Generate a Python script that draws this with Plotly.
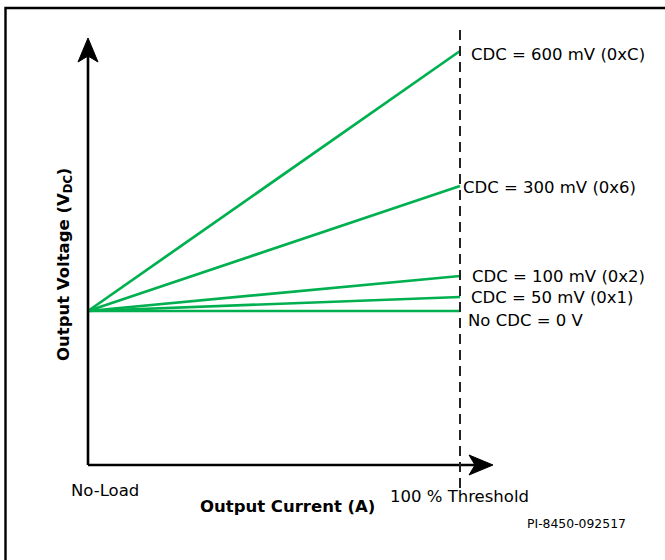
import plotly.graph_objects as go

# ---- data (schematic values) ----
current_points = [0.0, 1.0]          # No-Load -> 100 % Threshold (relative)
cdc_labels = ["CDC = 600 mV (0xC)", "CDC = 300 mV (0x6)", "CDC = 100 mV (0x2)",
              "CDC = 50 mV (0x1)", "No CDC = 0 V"]
start_level = 0.0                     # common no-load voltage (display units)
end_levels = [260, 125, 35, 14, 0]    # voltage rise at threshold (display units)
x_tick_labels = ["No-Load", "100 % Threshold"]

W, H = 665, 560
GREEN = "#00B050"
FONT = "DejaVu Sans"
FS = 16.5

# pixel <-> data helpers (plot area == full figure)
X0PX, X1PX = 88, 460
Y0PX = 311
def xd(px):
    return (px - X0PX) / (X1PX - X0PX)
def yd(py):
    return Y0PX - py

fig = go.Figure()
for lab, lev in zip(cdc_labels, end_levels):
    fig.add_trace(go.Scatter(x=current_points, y=[start_level, lev], mode="lines",
                             line=dict(color=GREEN, width=2.7), name=lab,
                             showlegend=False, hoverinfo="skip"))

def path(pts):
    return "M " + " L ".join(f"{xd(a)},{yd(b)}" for a, b in pts) + " Z"

shapes = []
# axis lines
shapes.append(dict(type="line", xref="x", yref="y", x0=0, x1=0, y0=yd(465), y1=yd(56),
                   line=dict(color="black", width=2.6)))
shapes.append(dict(type="line", xref="x", yref="y", x0=0, x1=xd(476), y0=yd(465), y1=yd(465),
                   line=dict(color="black", width=2.6)))
# arrow heads
shapes.append(dict(type="path", xref="x", yref="y",
                   path=path([(88, 38), (98, 62), (88, 56), (78, 62)]),
                   fillcolor="black", line=dict(color="black", width=1)))
shapes.append(dict(type="path", xref="x", yref="y",
                   path=path([(493, 465), (469, 475), (475, 465), (469, 455)]),
                   fillcolor="black", line=dict(color="black", width=1)))
# dashed threshold line
shapes.append(dict(type="line", xref="x", yref="y", x0=1, x1=1, y0=yd(30), y1=yd(488),
                   line=dict(color="#222222", width=2, dash="10px,6px")))
# border (left and top visible)
shapes.append(dict(type="path", xref="paper", yref="paper",
                   path=f"M {5.5/W},{-0.02} L {5.5/W},{1-8/H} L {1.02},{1-8/H}",
                   line=dict(color="black", width=2.4)))

annotations = []
# series labels at threshold
label_pos = [(469, 54), (461, 187), (470, 276), (469, 297), (466, 320)]
for lab, (px, py) in zip(cdc_labels, label_pos):
    annotations.append(dict(x=xd(px), y=yd(py), xref="x", yref="y", text=lab, showarrow=False,
                            xanchor="left", yanchor="middle",
                            font=dict(family=FONT, size=FS, color="black")))

# x tick labels
annotations.append(dict(x=xd(105), y=yd(490), xref="x", yref="y", text=x_tick_labels[0],
                        showarrow=False, xanchor="center", yanchor="middle",
                        font=dict(family=FONT, size=FS, color="black")))
annotations.append(dict(x=xd(459), y=yd(496), xref="x", yref="y", text=x_tick_labels[1],
                        showarrow=False, xanchor="center", yanchor="middle",
                        font=dict(family=FONT, size=FS, color="black")))
# axis titles
annotations.append(dict(x=xd(287), y=yd(506), xref="x", yref="y", text="<b>Output Current (A)</b>",
                        showarrow=False, xanchor="center", yanchor="middle",
                        font=dict(family=FONT, size=FS, color="black")))
annotations.append(dict(x=xd(64), y=yd(265), xref="x", yref="y",
                        text="<b>Output Voltage (V<sub>DC</sub>)</b>", textangle=-90,
                        showarrow=False, xanchor="center", yanchor="middle",
                        font=dict(family=FONT, size=FS, color="black")))
# figure id
annotations.append(dict(x=xd(576), y=yd(523), xref="x", yref="y", text="PI-8450-092517",
                        showarrow=False, xanchor="center", yanchor="middle",
                        font=dict(family=FONT, size=12.4, color="black")))

fig.update_layout(
    width=W, height=H, margin=dict(l=0, r=0, t=0, b=0),
    paper_bgcolor="white", plot_bgcolor="white",
    xaxis=dict(range=[xd(0), xd(W)], visible=False, fixedrange=True),
    yaxis=dict(range=[yd(H), yd(0)], visible=False, fixedrange=True),
    shapes=shapes, annotations=annotations, showlegend=False,
)
fig.write_html("out.html", config={"displayModeBar": False},
               post_script="document.body.style.margin='0px';document.body.style.overflow='hidden';")
